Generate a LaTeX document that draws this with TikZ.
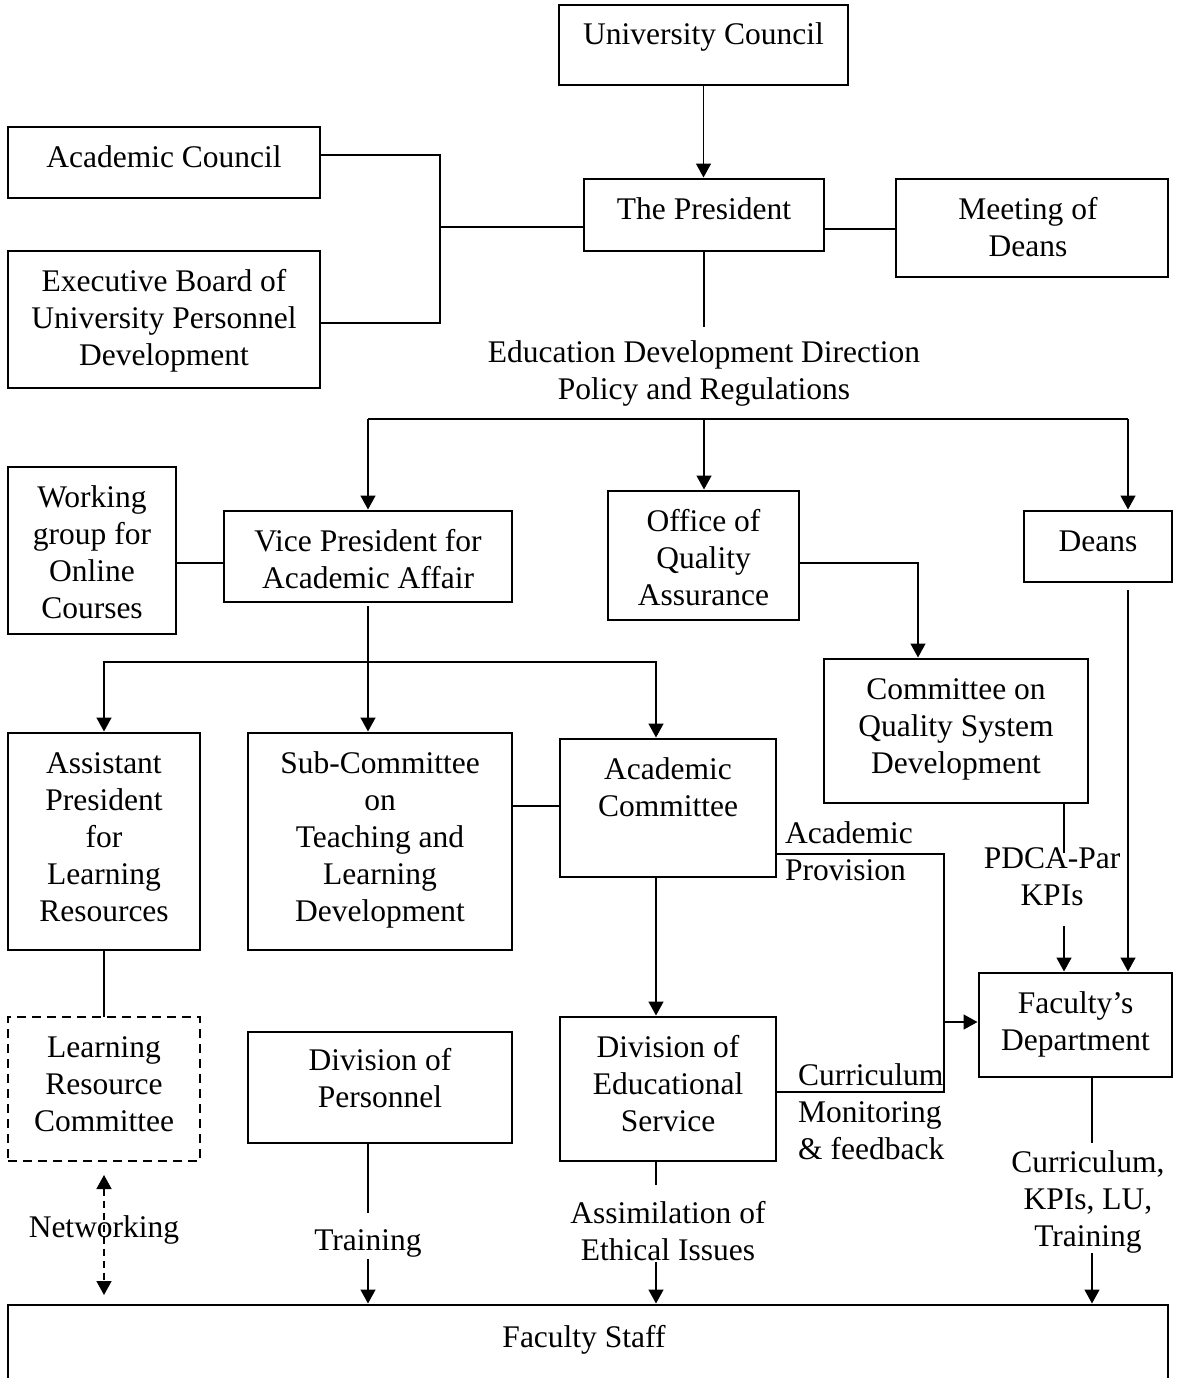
\documentclass[tikz,border=0pt]{standalone}
\usepackage{fontspec}
\setmainfont{Liberation Serif}
\usetikzlibrary{arrows.meta,calc}
\newcommand\bt[4][40]{\parbox[t][#3pt][t]{#2pt}{\centering\rule{0pt}{#1pt}#4\par}}
\newcommand\lc[1]{\begin{tabular}[t]{@{}c@{}}#1\end{tabular}}
\newcommand\lL[1]{\begin{tabular}[t]{@{}l@{}}#1\end{tabular}}
\tikzset{
  box/.style={draw, line width=1.5pt, inner sep=0pt, outer sep=0pt, anchor=north west},
  dbox/.style={box, dash pattern=on 9pt off 6pt},
  lbl/.style={inner sep=0pt, anchor=base},
  lblw/.style={inner sep=0pt, anchor=base west},
  ln/.style={line width=1.5pt},
  arr/.style={ln, -{Triangle[length=14pt,width=15pt]}, shorten >=1.5pt},
  darr/.style={ln, dash pattern=on 7pt off 5pt, {Triangle[length=14pt,width=15pt]}-{Triangle[length=14pt,width=15pt]}}
}
\begin{document}
\begin{tikzpicture}[x=1pt,y=-1pt,font=\fontsize{31.5}{37}\selectfont]
\fill[white] (0,0) rectangle (1176,1378);
\useasboundingbox (0,0) rectangle (1176,1378);

% boxes
\node[box] (uc) at (559,5) {\bt{289}{80}{University Council}};
\node[box] (acc) at (8,127) {\bt{312}{71}{Academic Council}};
\node[box] (ebd) at (8,251) {\bt{312}{137}{Executive Board of\\University Personnel\\Development}};
\node[box] (pres) at (584,179) {\bt{240}{72}{The President}};
\node[box] (mod) at (896,179) {\bt{272}{98}{\hspace*{-8pt}Meeting of\\\hspace*{-8pt}Deans}};
\node[box] (wg) at (8,467) {\bt{168}{167}{Working\\group for\\Online\\Courses}};
\node[box] (vp) at (224,511) {\bt{288}{91}{Vice President for\\Academic Affair}};
\node[box] (oqa) at (608,491) {\bt{191}{129}{Office of\\Quality\\Assurance}};
\node[box] (deans) at (1024,511) {\bt{148}{71}{Deans}};
\node[box] (qsd) at (824,659) {\bt{264}{144}{Committee on\\Quality System\\Development}};
\node[box] (ap) at (8,733) {\bt{192}{217}{Assistant\\President\\for\\Learning\\Resources}};
\node[box] (sc) at (248,733) {\bt{264}{217}{Sub-Committee\\on\\Teaching and\\Learning\\Development}};
\node[box] (acm) at (560,739) {\bt{216}{138}{Academic\\Committee}};
\node[box] (fd) at (979,973) {\bt{193}{104}{Faculty’s\\Department}};
\node[dbox] (lrc) at (8,1017) {\bt{192}{144}{Learning\\Resource\\Committee}};
\node[box] (dp) at (248,1032) {\bt[38]{264}{111}{Division of\\Personnel}};
\node[box] (des) at (560,1017) {\bt{216}{144}{Division of\\Educational\\Service}};
\node[box] (fs) at (8,1305) {\bt[42]{1160}{120}{\hspace*{-8pt}Faculty Staff}};

% labels
\node[lbl] (edd) at (704,362.5) {\lc{Education Development Direction\\Policy and Regulations}};
\node[lblw] (prov) at (785,843.5) {\lL{Academic\\Provision}};
\node[lbl] (pdca) at (1052,868.5) {\lc{PDCA-Par\\KPIs}};
\node[lblw] (cmf) at (798,1085) {\lL{Curriculum\\Monitoring\\\& feedback}};
\node[lbl] (netw) at (104,1237.5) {Networking};
\node[lbl] (trn) at (368,1250.5) {Training};
\node[lbl] (assim) at (668,1223.5) {\lc{Assimilation of\\Ethical Issues}};
\node[lbl] (ckt) at (1088,1172.5) {\lc{Curriculum,\\KPIs, LU,\\Training}};

% junction coordinates
\coordinate (brk) at (440,227);
\coordinate (ya) at (0,155);
\coordinate (yb) at (0,323);
\coordinate (pm) at (0,229);
\coordinate (eddtop) at (704,327);
\coordinate (d1) at (704,419);
\coordinate (dx) at (1128,419);
\coordinate (y563) at (0,563);
\coordinate (q1) at (918,563);
\coordinate (v1) at (368,662);
\coordinate (v2) at (656,662);
\coordinate (y806) at (0,806);
\coordinate (k1) at (944,854);
\coordinate (k2) at (944,1092);
\coordinate (k3) at (944,1022);
\coordinate (p1) at (1064,853);
\coordinate (p2) at (1064,926);
\coordinate (n1) at (104,1175);
\coordinate (n2) at (104,1295);
\coordinate (t1) at (368,1213);
\coordinate (t2) at (368,1259);
\coordinate (a1) at (656,1185);
\coordinate (a2) at (656,1262);
\coordinate (c1) at (1092,1143);
\coordinate (c2) at (1092,1253);

% connectors
\draw[arr] (uc.south) -- (uc.south |- pres.north);
\draw[ln] (acc.east |- ya) -| (brk) |- (ebd.east |- yb);
\draw[ln] (brk) -- (brk -| pres.west);
\draw[ln] (pres.east |- pm) -- (mod.west |- pm);
\draw[ln] (pres.south) -- (eddtop);
\draw[ln] (vp.north |- d1) -- (dx);
\draw[arr] (vp.north |- d1) -- (vp.north);
\draw[arr] (d1) -- (d1 |- oqa.north);
\draw[arr] (dx) -- (dx |- deans.north);
\draw[arr] ($(dx |- deans.south)+(0,8)$) -- (dx |- fd.north);
\draw[ln] (wg.east |- y563) -- (vp.west |- y563);
\draw[arr] (oqa.east |- q1) -- (q1) -- (q1 |- qsd.north);
\draw[ln] ($(vp.south)+(0,4)$) -- (v1);
\draw[arr] (v1) -| (ap.north);
\draw[arr] (v1) -- (v1 |- sc.north);
\draw[arr] (v1) -- (v2) -- (v2 |- acm.north);
\draw[ln] (sc.east |- y806) -- (acm.west |- y806);
\draw[arr] (v2 |- acm.south) -- (v2 |- des.north);
\draw[ln] (acm.east |- k1) -- (k1) -- (k2) -- (des.east |- k2);
\draw[arr] (k3) -- (fd.west |- k3);
\draw[ln] (p1 |- qsd.south) -- (p1);
\draw[arr] (p2) -- (p2 |- fd.north);
\draw[ln] (ap.south) -- (lrc.north);
\draw[darr] (n1) -- (n2);
\draw[ln] (t1 |- dp.south) -- (t1);
\draw[arr] (t2) -- (t2 |- fs.north);
\draw[ln] (a1 |- des.south) -- (a1);
\draw[arr] (a2) -- (a2 |- fs.north);
\draw[ln] (c1 |- fd.south) -- (c1);
\draw[arr] (c2) -- (c2 |- fs.north);
\end{tikzpicture}
\end{document}
